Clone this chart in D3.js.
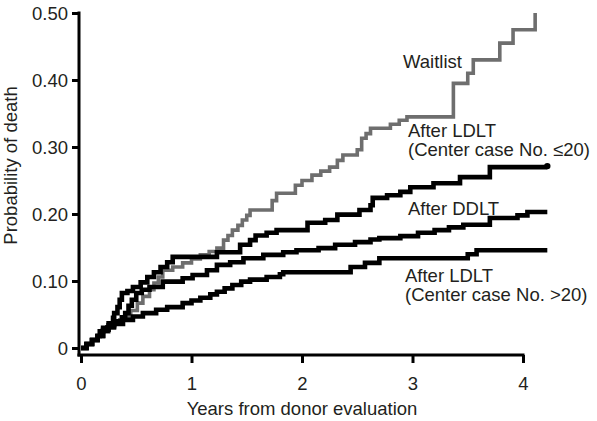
<!DOCTYPE html>
<html>
<head>
<meta charset="utf-8">
<script src="https://cdn.jsdelivr.net/npm/d3@7/dist/d3.min.js"></script>
<style>
  html, body { margin: 0; padding: 0; background: #fff; }
  svg { display: block; }
  text { font-family: "Liberation Sans", Arial, Helvetica, sans-serif; fill: #231f20; }
</style>
</head>
<body>
<svg id="chart" width="597" height="421"></svg>
<script>
// ---- Data (time in years, cumulative probability of death) ----
const waitlistT = [0,0.05,0.1,0.15,0.2,0.25,0.3,0.35,0.40,0.45,0.51,0.56,0.62,0.66,0.70,0.74,0.83,0.92,1.0,1.08,1.16,1.23,1.29,1.33,1.37,1.42,1.46,1.50,1.53,1.73,1.77,1.94,2.0,2.09,2.17,2.25,2.32,2.37,2.50,2.54,2.58,2.62,2.80,2.88,2.95,3.37,3.50,3.55,3.79,3.91,4.11];
const waitlistP = [0,0.006,0.012,0.018,0.024,0.030,0.036,0.042,0.047,0.056,0.067,0.077,0.087,0.097,0.106,0.116,0.121,0.127,0.133,0.139,0.144,0.149,0.161,0.168,0.176,0.183,0.191,0.198,0.206,0.220,0.231,0.243,0.250,0.258,0.264,0.270,0.280,0.288,0.296,0.313,0.320,0.328,0.334,0.340,0.345,0.395,0.410,0.430,0.455,0.475,0.500];

const ldltLowT = [0,0.05,0.1,0.15,0.17,0.2,0.25,0.29,0.3,0.33,0.35,0.37,0.42,0.47,0.54,0.6,0.66,0.72,0.78,0.83,1.23,1.44,1.53,1.58,1.68,1.77,2.05,2.21,2.32,2.52,2.62,2.64,2.77,2.89,2.98,3.19,3.43,3.70,4.22];
const ldltLowP = [0,0.006,0.012,0.018,0.025,0.030,0.037,0.045,0.052,0.061,0.072,0.082,0.085,0.091,0.098,0.106,0.113,0.121,0.128,0.136,0.143,0.154,0.161,0.168,0.172,0.176,0.187,0.191,0.199,0.206,0.213,0.224,0.228,0.233,0.240,0.246,0.255,0.270,0.270];

const ddltT = [0,0.05,0.1,0.15,0.2,0.25,0.3,0.37,0.40,0.43,0.46,0.5,0.55,0.62,0.74,0.92,1.01,1.14,1.23,1.35,1.47,1.65,1.83,1.95,2.15,2.3,2.48,2.62,2.70,2.89,3.05,3.2,3.33,3.46,3.70,3.95,4.04,4.22];
const ddltP = [0,0.006,0.012,0.018,0.027,0.034,0.040,0.046,0.052,0.063,0.072,0.082,0.087,0.091,0.099,0.104,0.109,0.116,0.124,0.128,0.134,0.139,0.143,0.146,0.149,0.154,0.158,0.162,0.164,0.167,0.172,0.176,0.180,0.184,0.194,0.198,0.203,0.203];

const ldltHighT = [0,0.05,0.1,0.15,0.2,0.24,0.3,0.38,0.47,0.56,0.68,0.78,0.92,1.0,1.08,1.17,1.23,1.3,1.37,1.45,1.53,1.68,1.80,1.83,2.44,2.57,2.70,3.46,3.50,3.58,4.22];
const ldltHighP = [0,0.006,0.012,0.018,0.026,0.031,0.036,0.042,0.047,0.052,0.057,0.061,0.067,0.071,0.075,0.080,0.084,0.089,0.094,0.099,0.102,0.106,0.110,0.113,0.121,0.127,0.134,0.134,0.140,0.146,0.146];

const xTicks = [0, 1, 2, 3, 4];
const xTickLabels = ["0", "1", "2", "3", "4"];
const yTicks = [0, 0.1, 0.2, 0.3, 0.4, 0.5];
const yTickLabels = ["0", "0.10", "0.20", "0.30", "0.40", "0.50"];

const xTitle = "Years from donor evaluation";
const yTitle = "Probability of death";

// ---- Drawing ----
const FS = 18.5;
const svg = d3.select("#chart");
const x = d3.scaleLinear().domain([0, 4]).range([81, 523]);
const y = d3.scaleLinear().domain([0, 0.5]).range([348, 13]);
const axisY = y(0) + 7;   // x-axis baseline sits a bit below the zero line
const axisX = x(0) - 2;

const zip = (t, p) => t.map((d, i) => [d, p[i]]);
const line = d3.line().x(d => x(d[0])).y(d => y(d[1])).curve(d3.curveStepAfter);

const series = [
  { data: zip(waitlistT, waitlistP), color: "#6e6e6e", width: 3.6 },
  { data: zip(ldltHighT, ldltHighP), color: "#000", width: 4.6 },
  { data: zip(ddltT, ddltP), color: "#000", width: 4.6 },
  { data: zip(ldltLowT, ldltLowP), color: "#000", width: 4.6 }
];

svg.append("g").selectAll("path").data(series).join("path")
  .attr("d", d => line(d.data))
  .attr("fill", "none")
  .attr("stroke", d => d.color)
  .attr("stroke-width", d => d.width)
  .attr("stroke-linejoin", "miter")
  .attr("stroke-linecap", "butt");

// end dot on LDLT (<=20)
const lastLow = series[3].data[series[3].data.length - 1];
svg.append("circle")
  .attr("cx", x(lastLow[0]))
  .attr("cy", y(lastLow[1]) - 1)
  .attr("r", 3.2)
  .attr("fill", "#000");

// Y axis
const gy = svg.append("g").attr("transform", `translate(${axisX},0)`)
  .call(d3.axisLeft(y).tickValues(yTicks).tickFormat((d, i) => yTickLabels[i]).tickSize(7).tickPadding(4));
gy.select(".domain").remove();
gy.selectAll(".tick line").attr("stroke", "#000").attr("stroke-width", 3);
gy.selectAll(".tick text").attr("font-size", FS).attr("fill", "#231f20")
  .attr("font-family", "'Liberation Sans', Arial, sans-serif").attr("dy", "0.36em");
svg.append("line")
  .attr("x1", axisX).attr("x2", axisX)
  .attr("y1", y(0.5) - 1.5).attr("y2", axisY + 1.5)
  .attr("stroke", "#000").attr("stroke-width", 3);

// X axis
const gx = svg.append("g").attr("transform", `translate(0,${axisY})`)
  .call(d3.axisBottom(x).tickValues(xTicks).tickFormat((d, i) => xTickLabels[i]).tickSize(8).tickPadding(14));
gx.select(".domain").remove();
gx.selectAll(".tick line").attr("stroke", "#000").attr("stroke-width", 3);
gx.selectAll(".tick text").attr("font-size", FS).attr("fill", "#231f20")
  .attr("font-family", "'Liberation Sans', Arial, sans-serif");
svg.append("line")
  .attr("x1", axisX - 1.5).attr("x2", x(4) + 1.5)
  .attr("y1", axisY).attr("y2", axisY)
  .attr("stroke", "#000").attr("stroke-width", 3);

// Axis titles
svg.append("text")
  .attr("x", (x(0) + x(4)) / 2).attr("y", 415)
  .attr("text-anchor", "middle").attr("font-size", FS)
  .text(xTitle);
svg.append("text")
  .attr("transform", `translate(17,${(y(0) + y(0.5)) / 2 - 15}) rotate(-90)`)
  .attr("text-anchor", "middle").attr("font-size", FS)
  .text(yTitle);

// Series labels
const labels = [
  { lines: ["Waitlist"], x: 403, y: 68 },
  { lines: ["After LDLT", "(Center case No. \u226420)"], x: 408, y: 137 },
  { lines: ["After DDLT"], x: 408, y: 215 },
  { lines: ["After LDLT", "(Center case No. >20)"], x: 405, y: 282 }
];
labels.forEach(l => {
  const t = svg.append("text").attr("font-size", FS).attr("x", l.x).attr("y", l.y);
  l.lines.forEach((s, i) => {
    t.append("tspan").attr("x", l.x).attr("dy", i === 0 ? 0 : 19).text(s);
  });
});
</script>
</body>
</html>
